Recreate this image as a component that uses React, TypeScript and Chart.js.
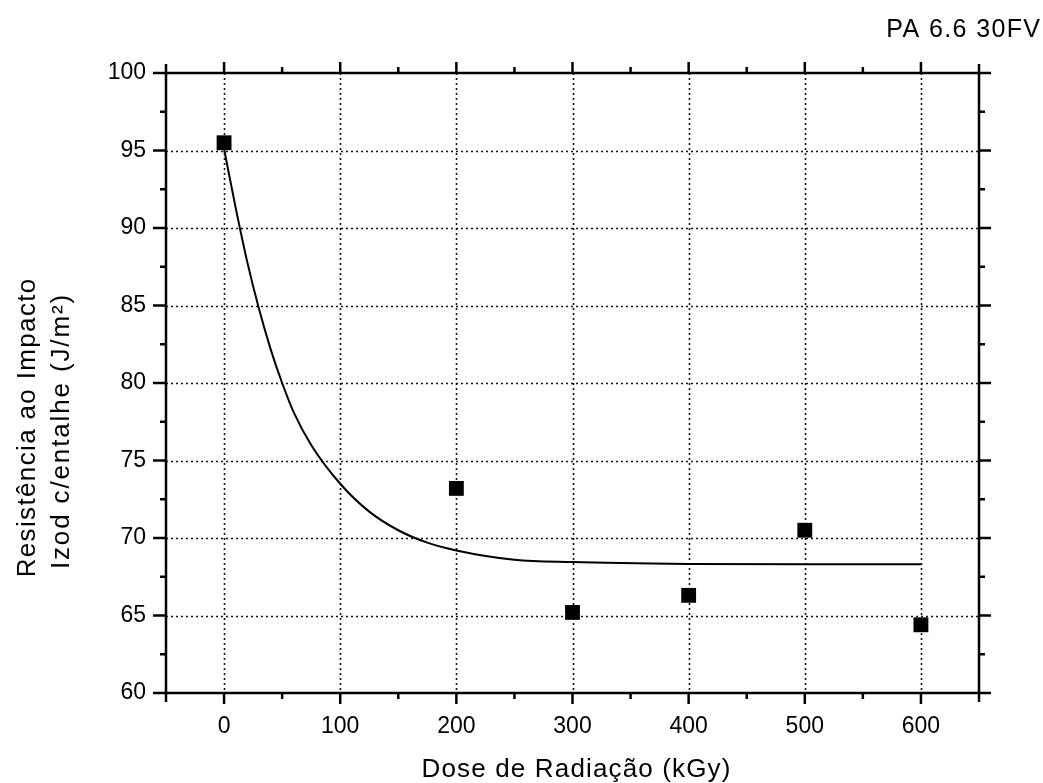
import React, { useEffect, useRef } from "react";
import { Chart, registerables } from "chart.js";

Chart.register(...registerables);

// ---- data ----
const doseKGy = [0, 200, 300, 400, 500, 600];
const izodImpact = [95.5, 73.2, 65.2, 66.3, 70.5, 64.4];

const fitDose = [0, 10, 20, 30, 40, 50, 60, 75, 100, 125, 150, 175, 200, 250, 300, 400, 500, 600];
const fitImpact = [95.1, 91.3, 87.8, 84.8, 82.2, 80.0, 78.1, 76.0, 73.5, 71.7, 70.5, 69.7, 69.2, 68.6, 68.45, 68.33, 68.3, 68.3];

const xTicks = [0, 100, 200, 300, 400, 500, 600];
const xTickLabels = ["0", "100", "200", "300", "400", "500", "600"];
const xMinorTicks = [-50, 50, 150, 250, 350, 450, 550, 650];
const yTicks = [60, 65, 70, 75, 80, 85, 90, 95, 100];
const yTickLabels = ["60", "65", "70", "75", "80", "85", "90", "95", "100"];
const yMinorTicks = [62.5, 67.5, 72.5, 77.5, 82.5, 87.5, 92.5, 97.5];

const xTitle = "Dose de Radiação (kGy)";
const yTitleLine1 = "Resistência ao Impacto";
const yTitleLine2 = "Izod c/entalhe (J/m²)";
const panelLabel = "PA 6.6 30FV";

const FONT = "'Liberation Sans', Arial, Helvetica, sans-serif";

function spacedText(ctx: CanvasRenderingContext2D, text: string, x: number, y: number, target: number) {
  (ctx as any).letterSpacing = "0px";
  const w = ctx.measureText(text).width;
  const ls = Math.max(0, (target - w) / text.length);
  (ctx as any).letterSpacing = ls + "px";
  let dx = 0;
  if (ctx.textAlign === "center") dx = ls / 2;
  else if (ctx.textAlign === "right") dx = ls;
  ctx.fillText(text, x + dx, y);
  (ctx as any).letterSpacing = "0px";
}

const framePlugin = {
  id: "originFrame",
  beforeDatasetsDraw(chart: any) {
    const { ctx, chartArea: a, scales } = chart;
    const x = scales.x, y = scales.y;
    ctx.save();
    ctx.strokeStyle = "#111";
    ctx.lineWidth = 1.6;
    ctx.setLineDash([2, 3]);
    for (const v of xTicks) {
      const px = Math.round(x.getPixelForValue(v)) + 0.5;
      ctx.beginPath();
      ctx.moveTo(px, a.top);
      ctx.lineTo(px, a.bottom);
      ctx.stroke();
    }
    for (const v of yTicks) {
      if (v === 60 || v === 100) continue;
      const py = Math.round(y.getPixelForValue(v)) + 0.5;
      ctx.beginPath();
      ctx.moveTo(a.left, py);
      ctx.lineTo(a.right, py);
      ctx.stroke();
    }
    ctx.restore();
  },
  afterDatasetsDraw(chart: any) {
    const { ctx, chartArea: a, scales } = chart;
    const x = scales.x, y = scales.y;
    ctx.save();
    ctx.setLineDash([]);
    ctx.strokeStyle = "#000";
    ctx.lineWidth = 2.5;
    ctx.strokeRect(a.left, a.top, a.right - a.left, a.bottom - a.top);
    const line = (x1: number, y1: number, x2: number, y2: number) => {
      ctx.beginPath();
      ctx.moveTo(x1, y1);
      ctx.lineTo(x2, y2);
      ctx.stroke();
    };
    for (const v of xTicks) {
      const px = x.getPixelForValue(v);
      line(px, a.bottom, px, a.bottom + 11);
      line(px, a.top, px, a.top - 11);
    }
    for (const v of xMinorTicks) {
      const px = x.getPixelForValue(v);
      const len = v === -50 || v === 650 ? 9 : 6;
      line(px, a.bottom, px, a.bottom + len);
      line(px, a.top, px, a.top - len);
    }
    for (const v of yTicks) {
      const py = y.getPixelForValue(v);
      line(a.left, py, a.left - 13, py);
      line(a.right, py, a.right + 12, py);
    }
    for (const v of yMinorTicks) {
      const py = y.getPixelForValue(v);
      line(a.left, py, a.left - 6, py);
      line(a.right, py, a.right + 6, py);
    }
    ctx.restore();
  },
  afterDraw(chart: any) {
    const { ctx } = chart;
    ctx.save();
    ctx.fillStyle = "#000";
    ctx.textBaseline = "alphabetic";
    // x title
    ctx.font = `26px ${FONT}`;
    ctx.textAlign = "center";
    spacedText(ctx, xTitle, 576, 777, 310);
    // panel label
    ctx.font = `25px ${FONT}`;
    ctx.textAlign = "right";
    spacedText(ctx, panelLabel, 1040, 37, 155);
    // y titles (rotated)
    ctx.font = `26px ${FONT}`;
    ctx.textAlign = "center";
    ctx.save();
    ctx.translate(35, 428);
    ctx.rotate(-Math.PI / 2);
    spacedText(ctx, yTitleLine1, 0, 0, 300);
    ctx.restore();
    ctx.save();
    ctx.translate(69, 432);
    ctx.rotate(-Math.PI / 2);
    spacedText(ctx, yTitleLine2, 0, 0, 276);
    ctx.restore();
    ctx.restore();
  },
};

export default function App() {
  const canvasRef = useRef<HTMLCanvasElement | null>(null);

  useEffect(() => {
    const canvas = canvasRef.current;
    if (!canvas) return;
    const chart = new Chart(canvas, {
      type: "scatter",
      data: {
        datasets: [
          {
            type: "scatter",
            label: "Izod",
            data: doseKGy.map((d, i) => ({ x: d, y: izodImpact[i] })),
            pointStyle: "rect",
            pointRadius: 10.5,
            pointHoverRadius: 10.5,
            backgroundColor: "#000",
            borderColor: "#000",
            borderWidth: 0,
          },
          {
            type: "line",
            label: "Fit",
            data: fitDose.map((d, i) => ({ x: d, y: fitImpact[i] })),
            borderColor: "#000",
            borderWidth: 2,
            pointRadius: 0,
            fill: false,
            showLine: true,
            cubicInterpolationMode: "monotone",
          } as any,
        ],
      },
      options: {
        animation: false,
        responsive: false,
        devicePixelRatio: 1,
        layout: { padding: { top: 73, right: 64, left: 0, bottom: 0 } },
        plugins: {
          legend: { display: false },
          tooltip: { enabled: false },
          title: { display: false },
        },
        scales: {
          x: {
            type: "linear",
            position: "bottom",
            min: -50,
            max: 650,
            afterBuildTicks: (s: any) => {
              s.ticks = xTicks.map((v) => ({ value: v }));
            },
            afterFit: (s: any) => {
              s.height = 90;
            },
            grid: { display: false, drawTicks: false },
            border: { display: false },
            ticks: {
              callback: (_v: any, i: number) => xTickLabels[i],
              font: { family: FONT, size: 23 },
              color: "#000",
              padding: 20,
              autoSkip: false,
              maxRotation: 0,
              minRotation: 0,
            },
          },
          y: {
            type: "linear",
            min: 60,
            max: 100,
            afterBuildTicks: (s: any) => {
              s.ticks = yTicks.map((v) => ({ value: v }));
            },
            afterFit: (s: any) => {
              s.width = 166;
            },
            grid: { display: false, drawTicks: false },
            border: { display: false },
            ticks: {
              callback: (_v: any, i: number) => yTickLabels[i],
              font: { family: FONT, size: 23 },
              color: "#000",
              padding: 20,
              autoSkip: false,
            },
          },
        },
      },
      plugins: [framePlugin],
    });
    return () => chart.destroy();
  }, []);

  return (
    <div
      style={{
        position: "fixed",
        left: 0,
        top: 0,
        width: 1043,
        height: 783,
        background: "#fff",
      }}
    >
      <canvas ref={canvasRef} width={1043} height={783} style={{ display: "block" }} />
    </div>
  );
}
